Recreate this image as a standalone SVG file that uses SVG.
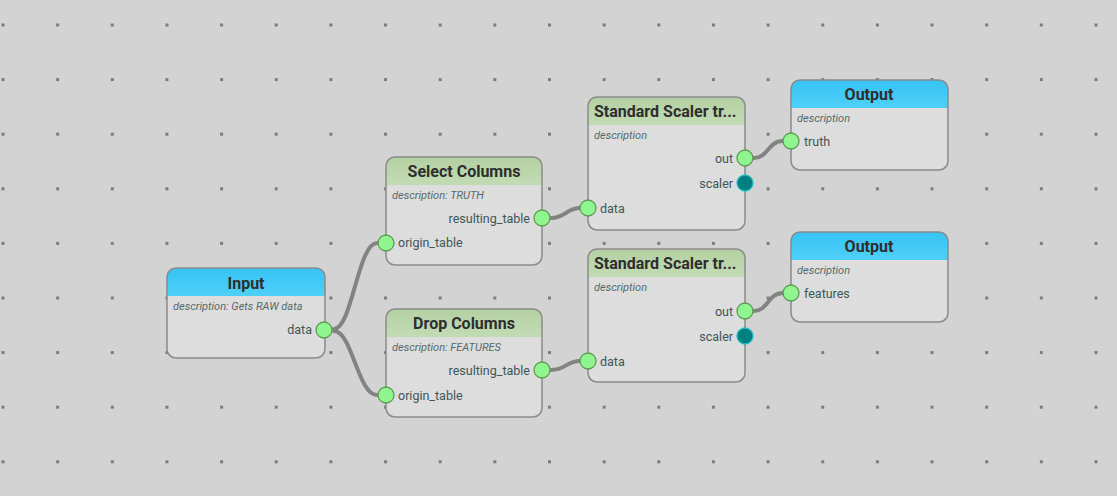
<svg xmlns="http://www.w3.org/2000/svg" width="1117" height="496" viewBox="0 0 1117 496">
<defs>
<pattern id="dots" patternUnits="userSpaceOnUse" x="1.5" y="23.5" width="54.65" height="54.6">
<rect x="0" y="0" width="3" height="3" fill="#7c7c7c"/>
</pattern>
<linearGradient id="blue" x1="0" y1="0" x2="0" y2="1">
<stop offset="0" stop-color="#36c2f4"/>
<stop offset="1" stop-color="#4fd0f8"/>
</linearGradient>
<linearGradient id="green" x1="0" y1="0" x2="0" y2="1">
<stop offset="0" stop-color="#b3d0a2"/>
<stop offset="1" stop-color="#c2dbb4"/>
</linearGradient>
<clipPath id="cInput"><rect x="167" y="268" width="158" height="90" rx="9"/></clipPath>
<clipPath id="cSel"><rect x="386" y="157" width="156" height="108" rx="9"/></clipPath>
<clipPath id="cDrop"><rect x="386" y="309" width="156" height="108" rx="9"/></clipPath>
<clipPath id="cSS1"><rect x="588" y="97" width="157" height="133" rx="9"/></clipPath>
<clipPath id="cSS2"><rect x="588" y="249" width="157" height="133" rx="9"/></clipPath>
<clipPath id="cOut1"><rect x="791" y="80" width="157" height="90" rx="9"/></clipPath>
<clipPath id="cOut2"><rect x="791" y="232" width="157" height="90" rx="9"/></clipPath>
</defs>
<style>
.title{font-family:Roboto,"Liberation Sans",sans-serif;font-weight:bold;font-size:16px;fill:#2e2e2e}
.desc{font-family:Roboto,"Liberation Sans",sans-serif;font-style:italic;font-size:11px;fill:#566a6a}
.lbl{font-family:Roboto,"Liberation Sans",sans-serif;font-size:12.5px;fill:#3f5656}
.r{text-anchor:end}
.c{text-anchor:middle}
.port{fill:#8ff58f;stroke:#5f9a52;stroke-width:1.3}
.sport{fill:#008080;stroke:#20c0c0;stroke-width:1.3}
.wire{fill:none;stroke:#838383;stroke-width:4;stroke-linecap:round}
.frame{fill:none;stroke:#8a8a8a;stroke-width:1.5}
.bg{fill:#dddddd}
</style>
<rect width="1117" height="496" fill="#d3d3d3"/>
<rect width="1117" height="496" fill="url(#dots)"/>

<g id="connectors">
<path class="wire" d="M334,329 C352,329 358,243 377,243"/>
<path class="wire" d="M334,331 C352,331 358,395 377,395"/>
<path class="wire" d="M551,218 C566,218 566,208 580,208"/>
<path class="wire" d="M551,370 C566,370 566,361 580,361"/>
<path class="wire" d="M754,158 C768,158 768,141 783,141"/>
<path class="wire" d="M754,311 C768,311 768,293 783,293"/>
</g>

<g id="input">
<g clip-path="url(#cInput)">
<rect class="bg" x="167" y="268" width="158" height="90"/>
<rect x="167" y="268" width="158" height="28" fill="url(#blue)"/>
</g>
<rect class="frame" x="167" y="268" width="158" height="90" rx="9"/>
<text class="title c" x="246" y="289">Input</text>
<text class="desc" x="173" y="310">description: Gets RAW data</text>
<text class="lbl r" x="312" y="334">data</text>
<circle class="port" cx="324" cy="330" r="8"/>
</g>

<g id="select-columns">
<g clip-path="url(#cSel)">
<rect class="bg" x="386" y="157" width="156" height="108"/>
<rect x="386" y="157" width="156" height="28" fill="url(#green)"/>
</g>
<rect class="frame" x="386" y="157" width="156" height="108" rx="9"/>
<text class="title c" x="464" y="177">Select Columns</text>
<text class="desc" x="392" y="199">description: TRUTH</text>
<text class="lbl r" x="530" y="223">resulting_table</text>
<text class="lbl" x="398" y="247">origin_table</text>
<circle class="port" cx="542" cy="218" r="8"/>
<circle class="port" cx="386" cy="243" r="8"/>
</g>

<g id="drop-columns">
<g clip-path="url(#cDrop)">
<rect class="bg" x="386" y="309" width="156" height="108"/>
<rect x="386" y="309" width="156" height="28" fill="url(#green)"/>
</g>
<rect class="frame" x="386" y="309" width="156" height="108" rx="9"/>
<text class="title c" x="464" y="329">Drop Columns</text>
<text class="desc" x="392" y="351">description: FEATURES</text>
<text class="lbl r" x="530" y="375">resulting_table</text>
<text class="lbl" x="398" y="400">origin_table</text>
<circle class="port" cx="542" cy="370" r="8"/>
<circle class="port" cx="386" cy="395" r="8"/>
</g>

<g id="standard-scaler-1">
<g clip-path="url(#cSS1)">
<rect class="bg" x="588" y="97" width="157" height="133"/>
<rect x="588" y="97" width="157" height="28" fill="url(#green)"/>
</g>
<rect class="frame" x="588" y="97" width="157" height="133" rx="9"/>
<text class="title" x="594" y="117">Standard Scaler tr...</text>
<text class="desc" x="594" y="139">description</text>
<text class="lbl r" x="733" y="163">out</text>
<text class="lbl r" x="733" y="188">scaler</text>
<text class="lbl" x="600" y="213">data</text>
<circle class="port" cx="745" cy="158" r="8"/>
<circle class="sport" cx="745" cy="183" r="8"/>
<circle class="port" cx="588" cy="208" r="8"/>
</g>

<g id="standard-scaler-2">
<g clip-path="url(#cSS2)">
<rect class="bg" x="588" y="249" width="157" height="133"/>
<rect x="588" y="249" width="157" height="28" fill="url(#green)"/>
</g>
<rect class="frame" x="588" y="249" width="157" height="133" rx="9"/>
<text class="title" x="594" y="269">Standard Scaler tr...</text>
<text class="desc" x="594" y="291">description</text>
<text class="lbl r" x="733" y="316">out</text>
<text class="lbl r" x="733" y="341">scaler</text>
<text class="lbl" x="600" y="366">data</text>
<circle class="port" cx="745" cy="311" r="8"/>
<circle class="sport" cx="745" cy="336" r="8"/>
<circle class="port" cx="588" cy="361" r="8"/>
</g>

<g id="output-truth">
<g clip-path="url(#cOut1)">
<rect class="bg" x="791" y="80" width="157" height="90"/>
<rect x="791" y="80" width="157" height="28" fill="url(#blue)"/>
</g>
<rect class="frame" x="791" y="80" width="157" height="90" rx="9"/>
<text class="title c" x="869" y="100">Output</text>
<text class="desc" x="797" y="122">description</text>
<text class="lbl" x="804" y="146">truth</text>
<circle class="port" cx="791" cy="141" r="8"/>
</g>

<g id="output-features">
<g clip-path="url(#cOut2)">
<rect class="bg" x="791" y="232" width="157" height="90"/>
<rect x="791" y="232" width="157" height="28" fill="url(#blue)"/>
</g>
<rect class="frame" x="791" y="232" width="157" height="90" rx="9"/>
<text class="title c" x="869" y="252">Output</text>
<text class="desc" x="797" y="274">description</text>
<text class="lbl" x="804" y="298">features</text>
<circle class="port" cx="791" cy="293" r="8"/>
</g>
</svg>
